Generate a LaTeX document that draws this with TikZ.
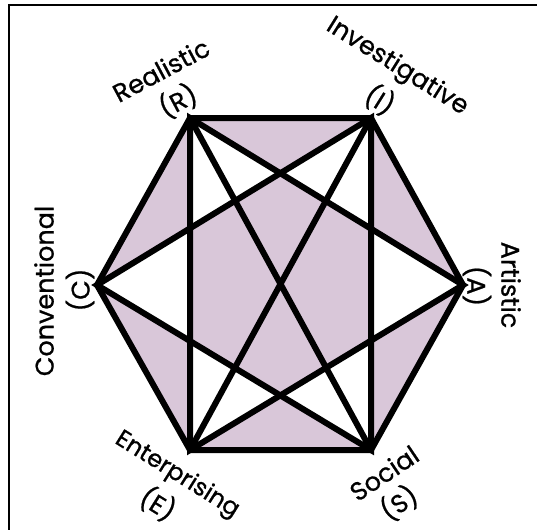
\documentclass[tikz,border=0pt]{standalone}
\usepackage{fontspec}
\setmainfont{Poppins}
\newfontfamily\lblfont{Poppins}[FakeBold=0.8]
\begin{document}
\begin{tikzpicture}[x=1pt,y=-1pt,
  edge/.style={line width=6pt, line join=miter, line cap=round},
  lbl/.style={font=\lblfont\fontsize{25.5}{34}\selectfont, inner sep=0pt}]
\definecolor{mauve}{RGB}{217,199,217}
\useasboundingbox (0,0) rectangle (537,530);
\coordinate (C) at (97,285);
\coordinate (R) at (190,118);
\coordinate (I) at (371,118);
\coordinate (A) at (463,285);
\coordinate (S) at (371,450);
\coordinate (E) at (190,450);
\coordinate (f1) at (537,5);
\coordinate (f2) at (9,5);
\coordinate (f3) at (9,530);
% fill
\fill[mauve, even odd rule] (C)--(R)--(I)--(A)--(S)--(E)--cycle
  (R)--(A)--(E)--cycle (I)--(C)--(S)--cycle;
% lines
\draw[edge] (C)--(R)--(I)--(A)--(S)--(E)--cycle;
\draw[edge] (R)--(A)--(E)--cycle;
\draw[edge] (I)--(C)--(S)--cycle;
\draw[edge] (R)--(S) (I)--(E);
% frame
\draw[line width=1.5pt] (f1)--(f2)--(f3);
% labels
\node[lbl, rotate=28] (lR) at (161,70) {Realistic};
\node[lbl, rotate=28] (lRs) at (178,101) {(R)};
\node[lbl, rotate=-32] (lI) at (397,67) {Investigative};
\node[lbl, rotate=-32] (lIs) at (380,100) {(I)};
\node[lbl, rotate=-90] (lA) at (511,285) {Artistic};
\node[lbl, rotate=-90] (lAs) at (477,286) {(A)};
\node[lbl, rotate=90] (lC) at (44,291) {Conventional};
\node[lbl, rotate=90] (lCs) at (80,290) {(C)};
\node[lbl, rotate=-32, font=\lblfont\fontsize{24}{30}\selectfont] (lE) at (177,475) {Enterprising};
\node[lbl, rotate=-32] (lEs) at (158,504) {(E)};
\node[lbl, rotate=34] (lS) at (384,473) {Social};
\node[lbl, rotate=34] (lSs) at (399,503) {(S)};
\end{tikzpicture}
\end{document}
